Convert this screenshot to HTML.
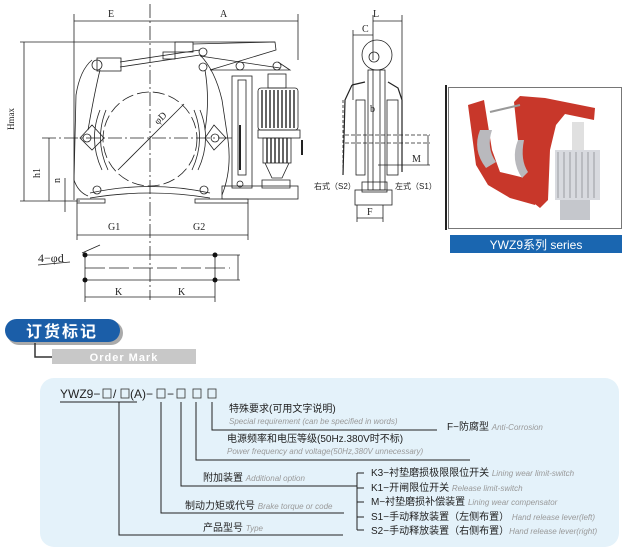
<!DOCTYPE html>
<html><head><meta charset="utf-8"><style>
html,body{margin:0;padding:0;background:#fff;}
body{width:639px;height:555px;overflow:hidden;position:relative;font-family:"Liberation Sans","Noto Sans CJK SC",sans-serif;}
svg{position:absolute;left:0;top:0;}
</style></head><body>
<svg width="639" height="555" viewBox="0 0 639 555" xmlns="http://www.w3.org/2000/svg">
<g stroke="#222" stroke-width="0.8" fill="none">
<line x1="74" y1="14" x2="74" y2="200"/><line x1="298" y1="14" x2="298" y2="60"/>
<line x1="74" y1="21" x2="298" y2="21"/>
<line x1="150" y1="4" x2="150" y2="300" stroke-dasharray="14 3 2 3"/>
<line x1="20" y1="42" x2="275" y2="42"/>
<line x1="24" y1="42" x2="24" y2="201"/>
<line x1="20" y1="201" x2="80" y2="201"/>
<line x1="42" y1="138" x2="232" y2="138" stroke-dasharray="14 3 2 3"/>
<line x1="49" y1="138" x2="49" y2="201"/>
<line x1="65" y1="178" x2="65" y2="212"/>
<circle cx="150" cy="139" r="47" stroke-dasharray="12 4"/>
<line x1="118" y1="170" x2="184" y2="104"/>
<path d="M92 60 Q80 70 76 95 L74 180 Q78 192 88 196 M100 70 Q95 90 88 130 M200 55 Q215 70 222 100 L228 140 Q232 170 222 195 M205 70 Q210 100 205 130"/>
<path d="M80 138 L92 125 L104 138 L92 150 Z M205 138 L214 125 L226 138 L214 150 Z"/>
<path d="M100 110 Q88 140 102 170 M106 110 Q94 140 108 170 M200 110 Q212 140 198 170 M194 110 Q206 140 192 170"/>
<circle cx="97" cy="65" r="5"/><circle cx="87" cy="138" r="4"/><circle cx="215" cy="138" r="4"/><circle cx="97" cy="190" r="4"/><circle cx="204" cy="190" r="4"/><circle cx="203" cy="67" r="4"/><circle cx="203" cy="52" r="4"/><circle cx="240" cy="66" r="4"/><circle cx="277" cy="66" r="4"/>
<path d="M90 193 Q150 180 210 193 M90 198 Q150 188 210 198"/>
<rect x="97" y="58" width="24" height="13"/>
<line x1="120" y1="62" x2="200" y2="50"/><line x1="120" y1="67" x2="200" y2="55"/>
<rect x="163" y="52" width="12" height="7"/>
<rect x="175" y="42" width="18" height="10"/>
<path d="M193 44 L275 42 L276 50 L210 70 L290 70 L278 62"/>
<line x1="200" y1="56" x2="280" y2="68"/>
<rect x="77" y="199" width="28" height="4"/><rect x="195" y="199" width="53" height="4"/>
<rect x="232" y="76" width="20" height="112"/><rect x="238" y="80" width="8" height="95"/>
<line x1="240" y1="125" x2="240" y2="170" stroke-width="2"/>
<rect x="222" y="186" width="76" height="13"/>
<circle cx="240" cy="184" r="3"/>
<rect x="268" y="74" width="18" height="14"/>
<rect x="258" y="88" width="40" height="42" rx="3"/>
<path d="M262 90 V128 M266 90 V128 M270 90 V128 M274 90 V128 M278 90 V128 M282 90 V128 M286 90 V128 M290 90 V128 M294 90 V128" stroke-width="1.4"/>
<rect x="258" y="130" width="42" height="8"/>
<rect x="263" y="138" width="28" height="25"/>
<path d="M267 138 V163 M271 138 V163 M275 138 V163 M279 138 V163 M283 138 V163 M287 138 V163" stroke-width="1.4"/>
<path d="M265 163 L272 178 L282 178 L289 163 M262 180 H290 V188 H262 Z"/>
<line x1="77" y1="203" x2="77" y2="240"/><line x1="248" y1="203" x2="248" y2="240"/>
<line x1="77" y1="235" x2="248" y2="235"/>
<line x1="85" y1="255" x2="240" y2="255"/><line x1="85" y1="268" x2="230" y2="268" stroke-dasharray="20 4"/><line x1="85" y1="280" x2="240" y2="280"/>
<line x1="85" y1="255" x2="85" y2="302"/><line x1="215" y1="255" x2="215" y2="302"/>
<line x1="85" y1="297" x2="215" y2="297"/>
<line x1="238" y1="255" x2="238" y2="280"/>
<line x1="38" y1="265" x2="70" y2="262"/><line x1="82" y1="253" x2="100" y2="245"/>
</g>
<g fill="#111"><circle cx="85" cy="255" r="2.5"/><circle cx="85" cy="280" r="2.5"/><circle cx="215" cy="255" r="2.5"/><circle cx="215" cy="280" r="2.5"/></g>
<g font-family="Liberation Serif,serif" font-size="10" fill="#222">
<text x="108" y="17">E</text><text x="220" y="17">A</text>
<text x="14" y="130" transform="rotate(-90 14 130)" font-size="9">Hmax</text>
<text x="40" y="178" transform="rotate(-90 40 178)">h1</text>
<text x="60" y="183" transform="rotate(-90 60 183)">n</text>
<text x="158" y="125" transform="rotate(-45 158 125)">φD</text>
<text x="108" y="230">G1</text><text x="193" y="230">G2</text>
<text x="38" y="262" font-size="12">4−φd</text>
<text x="115" y="295">K</text><text x="178" y="295">K</text>
<text x="373" y="17">L</text><text x="362" y="32">C</text><text x="370" y="112">b</text><text x="412" y="162">M</text><text x="367" y="215">F</text>
</g>
<g stroke="#222" stroke-width="0.8" fill="none">
<line x1="373" y1="15" x2="373" y2="60"/><line x1="402" y1="15" x2="402" y2="100"/>
<line x1="373" y1="21" x2="402" y2="21"/><line x1="353" y1="35" x2="373" y2="35"/>
<line x1="353" y1="30" x2="353" y2="100"/>
<circle cx="377" cy="55" r="15"/><circle cx="374" cy="57" r="5"/>
<rect x="368" y="70" width="17" height="120"/><line x1="373" y1="70" x2="373" y2="190"/><line x1="380" y1="70" x2="380" y2="190"/>
<rect x="356" y="100" width="9" height="75"/><rect x="387" y="100" width="11" height="75"/>
<path d="M352 85 L365 82 M388 82 L398 88 L402 100 L402 172 M352 85 L345 100 L343 175" stroke-width="1.2"/>
<line x1="343" y1="100" x2="343" y2="175" stroke-dasharray="3 2"/>
<rect x="355" y="190" width="37" height="15"/><rect x="362" y="182" width="25" height="10"/>
<line x1="357" y1="205" x2="357" y2="222"/><line x1="383" y1="205" x2="383" y2="222"/>
<line x1="357" y1="218" x2="383" y2="218"/>
<line x1="345" y1="135" x2="430" y2="135" stroke-dasharray="4 2"/><line x1="345" y1="143" x2="430" y2="143" stroke-dasharray="4 2"/>
<line x1="378" y1="165" x2="430" y2="165"/><line x1="428" y1="135" x2="428" y2="165"/>
</g>
<line x1="446" y1="85" x2="446" y2="230" stroke="#222" stroke-width="2"/>
<line x1="302" y1="140" x2="302" y2="155" stroke="#222" stroke-width="2"/>
<text x="314" y="189" font-size="8" fill="#222">右式（S2）</text>
<text x="395" y="189" font-size="8" fill="#222">左式（S1）</text>
<rect x="448.5" y="87.5" width="173" height="141" fill="#fff" stroke="#555" stroke-width="0.8"/>
<g>
<path d="M468 105 L484 100 L492 150 L500 172 L525 178 L540 190 L535 205 L510 198 L488 185 L476 165 Z" fill="#c8372a"/>
<path d="M514 102 L520 96 L545 98 L595 108 L594 120 L565 114 L556 125 L550 150 L548 200 L540 208 L530 200 L522 175 L518 140 Z" fill="#c8372a"/>
<path d="M480 130 Q472 150 486 168 L496 162 Q486 148 492 130 Z" fill="#b9b9bd"/>
<path d="M518 140 Q510 160 522 178 L528 172 Q520 160 524 140 Z" fill="#b9b9bd"/>
<rect x="555" y="150" width="45" height="50" fill="#d8dadf"/>
<rect x="560" y="200" width="30" height="20" fill="#c5c7cc"/>
<path d="M558 152 V198 M564 152 V198 M570 152 V198 M576 152 V198 M582 152 V198 M588 152 V198 M594 152 V198" stroke="#9a9ca2"/>
<rect x="572" y="122" width="12" height="28" fill="#e0e0e0"/>
<line x1="490" y1="112" x2="520" y2="105" stroke="#999" stroke-width="2"/>
</g>
<rect x="450" y="235" width="172" height="18" fill="#1a66b0"/>
<text x="536" y="249" text-anchor="middle" font-size="12" fill="#fff">YWZ9系列 series</text>
<rect x="7" y="321" width="116" height="24" rx="12" fill="#aaa"/>
<rect x="5" y="319" width="115" height="23" rx="11.5" fill="#1b5ea8"/>
<text x="62" y="337" text-anchor="middle" font-size="16" font-weight="bold" fill="#fff" letter-spacing="2">订货标记</text>
<path d="M35 343 V357 H52" stroke="#333" stroke-width="1.5" fill="none"/>
<rect x="52" y="349" width="144" height="15" fill="#c8c8c8"/>
<text x="124" y="361" text-anchor="middle" font-size="11" font-weight="bold" fill="#fff" letter-spacing="1">Order Mark</text>
<rect x="40" y="378" width="579" height="169" rx="14" fill="#e4f2fa"/>
<text x="60" y="398" font-size="12" fill="#222">YWZ9−</text>
<g fill="none" stroke="#333" stroke-width="0.8">
<rect x="103" y="389" width="8" height="9"/><rect x="121" y="389" width="8" height="9"/><rect x="157" y="389" width="8" height="9"/><rect x="177" y="389" width="8" height="9"/><rect x="193" y="389" width="8" height="9"/><rect x="208" y="389" width="8" height="9"/>
</g>
<text x="113" y="398" font-size="12" fill="#222">/</text>
<text x="130" y="398" font-size="12" fill="#222">(A)−</text>
<text x="167" y="398" font-size="12" fill="#222">−</text>
<g stroke="#222" stroke-width="1" fill="none">
<line x1="60" y1="402" x2="137" y2="402"/>
<path d="M119 402 V535 H343"/>
<path d="M161 402 V513 H344"/>
<path d="M181 402 V486 H357"/>
<path d="M196 402 V460 H470"/>
<path d="M212 402 V430 H437"/>
<path d="M357 473 V530 M357 473 H364 M357 488 H364 M357 502 H364 M357 517 H364 M357 530 H364"/>
</g>
<g font-size="10" fill="#222">
<text x="229" y="412">特殊要求(可用文字说明)</text>
<text x="447" y="430">F−防腐型 <tspan font-size="8" font-style="italic" fill="#999">Anti-Corrosion</tspan></text>
<text x="227" y="442">电源频率和电压等级(50Hz.380V时不标)</text>
<text x="203" y="481">附加装置 <tspan font-size="8" font-style="italic" fill="#999">Additional  option</tspan></text>
<text x="185" y="509">制动力矩或代号 <tspan font-size="8" font-style="italic" fill="#999">Brake torque or code</tspan></text>
<text x="203" y="531">产品型号 <tspan font-size="8" font-style="italic" fill="#999">Type</tspan></text>
<text x="371" y="476">K3−衬垫磨损极限限位开关 <tspan font-size="8" font-style="italic" fill="#999">Lining wear limit-switch</tspan></text>
<text x="371" y="491">K1−开闸限位开关 <tspan font-size="8" font-style="italic" fill="#999">Release limit-switch</tspan></text>
<text x="371" y="505">M−衬垫磨损补偿装置 <tspan font-size="8" font-style="italic" fill="#999">Lining wear compensator</tspan></text>
<text x="371" y="520">S1−手动释放装置（左侧布置） <tspan font-size="8" font-style="italic" fill="#999">Hand release  lever(left)</tspan></text>
<text x="371" y="534">S2−手动释放装置（右侧布置）<tspan font-size="8" font-style="italic" fill="#999">Hand release  lever(right)</tspan></text>
</g>
<g font-size="8" font-style="italic" fill="#999">
<text x="229" y="424">Special  requirement (can  be specified  in words)</text>
<text x="227" y="454">Power frequency  and voltage(50Hz,380V unnecessary)</text>
</g>
</svg>
</body></html>
